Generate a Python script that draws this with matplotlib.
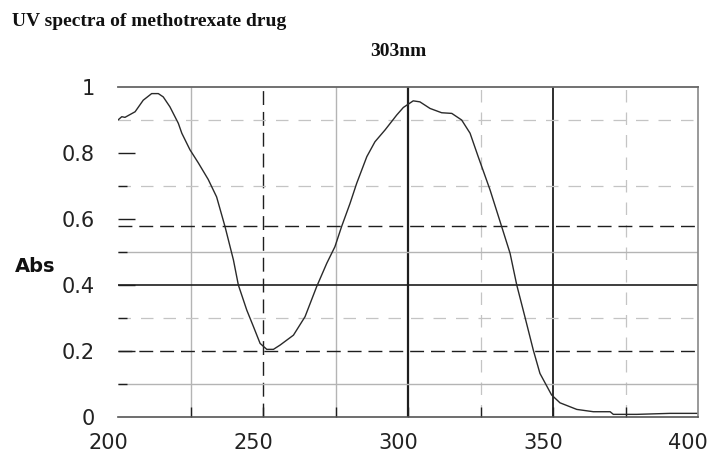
import matplotlib
matplotlib.use("Agg")
import matplotlib.pyplot as plt
import matplotlib.transforms as mtransforms

# ---- data ----
wavelength = [200.0, 201.3, 202.4, 205.9, 208.7, 211.6, 213.9, 215.6, 217.9, 220.8,
              222.0, 224.8, 227.7, 231.1, 234.0, 236.9, 239.8, 241.5, 244.4, 246.7,
              249.0, 251.3, 253.6, 255.9, 260.5, 264.5, 268.5, 272.0, 274.8, 277.1,
              280.0, 282.3, 285.8, 288.6, 292.1, 296.1, 298.4, 301.8, 304.1, 307.6,
              311.6, 315.1, 318.5, 321.4, 324.2, 328.3, 332.3, 335.2, 337.5, 340.3,
              343.2, 345.5, 349.5, 352.4, 358.2, 363.9, 369.7, 370.8, 378.9, 390.3, 399.5]
absorbance = [0.900, 0.910, 0.908, 0.925, 0.960, 0.980, 0.980, 0.970, 0.940, 0.890,
              0.860, 0.810, 0.770, 0.720, 0.667, 0.577, 0.476, 0.400, 0.324, 0.274,
              0.223, 0.205, 0.205, 0.218, 0.248, 0.304, 0.395, 0.466, 0.516, 0.577,
              0.647, 0.708, 0.789, 0.834, 0.870, 0.915, 0.938, 0.958, 0.955, 0.935,
              0.922, 0.920, 0.900, 0.860, 0.789, 0.688, 0.577, 0.496, 0.400, 0.304,
              0.203, 0.132, 0.067, 0.043, 0.023, 0.016, 0.016, 0.008, 0.008, 0.011, 0.011]
x_ticks = [200, 250, 300, 350, 400]
x_tick_labels = ["200", "250", "300", "350", "400"]
y_ticks = [0, 0.2, 0.4, 0.6, 0.8, 1]
y_tick_labels = ["0", "0.2", "0.4", "0.6", "0.8", "1"]
title = "UV spectra of methotrexate drug"
peak_label = "303nm"
y_label = "Abs"

W, H = 713, 454
PX = 72 / 100  # points per pixel
fig = plt.figure(figsize=(W / 100, H / 100), dpi=100)
ax = fig.add_axes([118 / W, (H - 417) / H, (698 - 118) / W, (417 - 87) / H])

GRAY = "#b4b4b4"
LGRAY = "#c4c4c4"
BLACK = "#1e1e1e"

# vertical grid lines
ax.axvline(225, color=GRAY, lw=1.0, zorder=1)
ax.axvline(250, color=BLACK, lw=1.0, ls=(0, (10, 5)), zorder=1)
ax.axvline(275, color=GRAY, lw=1.0, zorder=1)
ax.axvline(300, color=BLACK, lw=1.6, zorder=1)
ax.axvline(325, color=LGRAY, lw=0.9, ls=(0, (10, 8)), zorder=1)
ax.axvline(350, color=BLACK, lw=1.3, zorder=1)
ax.axvline(375, color=LGRAY, lw=0.9, ls=(0, (10, 8)), zorder=1)

# horizontal grid lines
ax.axhline(0.1, color=GRAY, lw=1.0, zorder=1)
ax.axhline(0.2, color=BLACK, lw=1.0, ls=(0, (10, 5)), zorder=1)
ax.axhline(0.3, color=LGRAY, lw=0.9, ls=(0, (10, 8)), zorder=1)
ax.axhline(0.4, color=BLACK, lw=1.2, zorder=1)
ax.axhline(0.5, color=GRAY, lw=1.0, zorder=1)
ax.axhline(0.58, color=BLACK, lw=1.0, ls=(0, (10, 5)), zorder=1)
ax.axhline(0.7, color=LGRAY, lw=0.9, ls=(0, (10, 8)), zorder=1)
ax.axhline(0.9, color=LGRAY, lw=0.9, ls=(0, (10, 8)), zorder=1)

# spectrum
ax.plot(wavelength, absorbance, color="#2a2a2a", lw=1.0, zorder=3)

ax.set_xlim(200, 400)
ax.set_ylim(0, 1)

ax.spines["left"].set_visible(False)
ax.spines["top"].set_color("#666666")
ax.spines["top"].set_linewidth(1.3)
ax.spines["bottom"].set_color("#555555")
ax.spines["bottom"].set_linewidth(1.2)
ax.spines["right"].set_color("#888888")
ax.spines["right"].set_linewidth(1.2)

ax.set_xticks(x_ticks)
ax.set_xticklabels(x_tick_labels)
ax.set_xticks([225, 275, 325, 375], minor=True)
ax.set_yticks(y_ticks)
ax.set_yticklabels(y_tick_labels)
ax.set_yticks([0.1, 0.3, 0.5, 0.7], minor=True)

ax.tick_params(axis="x", which="both", direction="in", length=10 * PX, width=1.0,
               color=BLACK, labelsize=15, pad=16 * PX, top=False)
ax.tick_params(axis="y", which="major", direction="in", length=17 * PX, width=1.0,
               color=BLACK, labelsize=15, pad=23 * PX, left=True, right=False)
ax.tick_params(axis="y", which="minor", direction="in", length=9 * PX, width=1.0,
               color=BLACK, left=True, right=False)

# no tick marks at the frame corners
xt = ax.xaxis.get_major_ticks()
for t in (xt[0], xt[-1]):
    t.tick1line.set_visible(False)
yt = ax.yaxis.get_major_ticks()
for t in (yt[0], yt[-1]):
    t.tick1line.set_visible(False)

offset = mtransforms.ScaledTranslation(-10 / 100, 0, fig.dpi_scale_trans)
for lab in ax.get_xticklabels():
    lab.set_transform(lab.get_transform() + offset)
for lab in ax.get_xticklabels() + ax.get_yticklabels():
    lab.set_color("#222222")
    lab.set_family("DejaVu Sans")

fig.text(15 / W, 1 - 267 / H, y_label, fontsize=14, fontweight="bold",
         family="DejaVu Sans", ha="left", va="center", color="#111111")
fig.text(12 / W, 1 - 22 / H, title, fontsize=14, fontweight="bold",
         family="Liberation Serif", ha="left", va="center", color="#111111")
fig.text(398 / W, 1 - 51 / H, peak_label, fontsize=14, fontweight="bold",
         family="Liberation Serif", ha="center", va="center", color="#111111")

fig.savefig("out.png", dpi=100)
